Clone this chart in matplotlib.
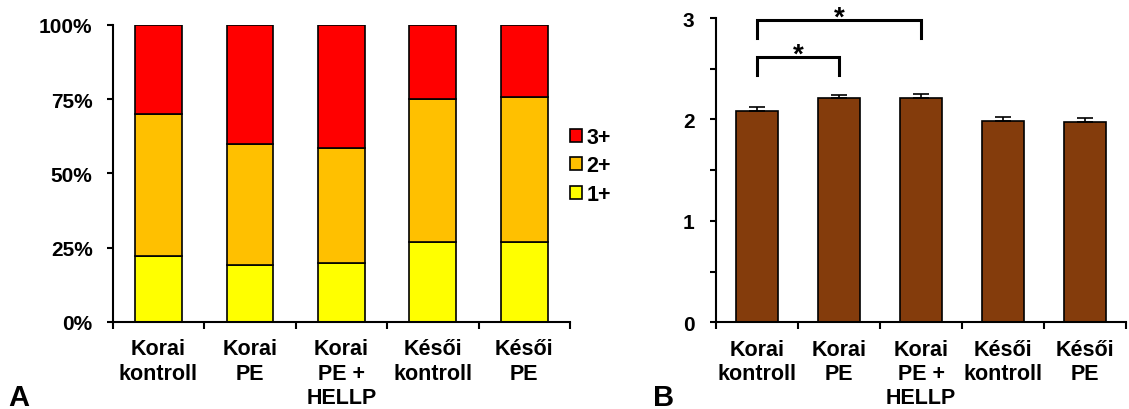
import matplotlib.pyplot as plt
import numpy as np

plt.rcParams['font.family'] = ['Liberation Sans', 'DejaVu Sans']
plt.rcParams['font.weight'] = 'bold'

groups = ["Korai\nkontroll", "Korai\nPE", "Korai\nPE +\nHELLP", "Késői\nkontroll", "Késői\nPE"]

# panel A: share of each score (%)
score_1 = [22.2, 19.1, 19.9, 26.8, 26.7]
score_2 = [47.9, 40.8, 38.8, 48.1, 48.9]
score_3 = [29.9, 40.1, 41.3, 25.1, 24.4]
score_labels = ["1+", "2+", "3+"]
score_colors = ["#FFFF00", "#FFC000", "#FF0000"]

# panel B: mean score with SEM
mean_score = [2.08, 2.21, 2.215, 1.985, 1.975]
sem_score = [0.04, 0.035, 0.035, 0.035, 0.04]

# significant pairs (group index a, group index b)
sig_pairs = [(0, 1), (0, 2)]
sig_heights = [2.62, 2.98]

fs = 15.5
fig = plt.figure(figsize=(11.29, 4.10), dpi=100)
ax_a = fig.add_axes([0.0998, 0.2129, 0.4051, 0.7237])
ax_b = fig.add_axes([0.6342, 0.2115, 0.3632, 0.7420])

x = np.arange(len(groups))

# stacked bars
bottom = np.zeros(len(groups))
handles = []
for vals, lab, col in zip([score_1, score_2, score_3], score_labels, score_colors):
    h = ax_a.bar(x, vals, 0.51, bottom=bottom, color=col, edgecolor="black",
                 linewidth=1.2, label=lab)
    handles.append(h)
    bottom += np.array(vals)

ax_a.set_ylim(0, 100)
ax_a.set_xlim(-0.5, len(groups) - 0.5)
ax_a.set_yticks([0, 25, 50, 75, 100])
ax_a.set_yticklabels([f"{v}%" for v in [0, 25, 50, 75, 100]])
ax_a.legend(handles[::-1], score_labels[::-1], loc="center left",
            bbox_to_anchor=(1.0, 0.525), frameon=False, fontsize=fs,
            borderpad=0, borderaxespad=0,
            handlelength=0.57, handleheight=0.57, handletextpad=0.2,
            labelspacing=0.35)

# mean bars with upward error bars
ax_b.bar(x, mean_score, 0.51, color="#843C0C", edgecolor="black", linewidth=1.2)
ax_b.errorbar(x, mean_score, yerr=[np.zeros(len(x)), sem_score], fmt="none",
              ecolor="black", elinewidth=1.2, capsize=5.5, capthick=1.2)
ax_b.set_ylim(0, 3)
ax_b.set_xlim(-0.5, len(groups) - 0.5)
ax_b.set_yticks([0, 1, 2, 3])
ax_b.set_yticks([0.5, 1.5, 2.5], minor=True)

for (a, b), top in zip(sig_pairs, sig_heights):
    ax_b.plot([a, a, b, b], [top - 0.18, top, top, top - 0.18], color="black",
              linewidth=2.2, clip_on=False, solid_joinstyle="miter")
    ax_b.text((a + b) / 2, top - 0.045, "*", ha="center", va="baseline",
              fontsize=20, clip_on=False)

for ax, ypad in ((ax_a, 10), (ax_b, 11)):
    ax.spines[["top", "right"]].set_visible(False)
    ax.spines[["left", "bottom"]].set_linewidth(1.5)
    ax.set_xticks(np.arange(len(groups) + 1) - 0.5)
    ax.set_xticklabels([])
    ax.set_xticks(x, minor=True)
    ax.set_xticklabels(groups, minor=True, fontsize=fs, linespacing=1.2)
    ax.tick_params(axis="x", which="major", length=5, width=1.5, direction="out")
    ax.tick_params(axis="x", which="minor", length=0, pad=12)
    ax.tick_params(axis="y", which="both", length=4.5, width=1.5, labelsize=15, pad=ypad)

fig.text(0.007, 0.03, "A", fontsize=21, ha="left", va="center")
fig.text(0.578, 0.03, "B", fontsize=21, ha="left", va="center")

fig.savefig("out.png", dpi=100)
